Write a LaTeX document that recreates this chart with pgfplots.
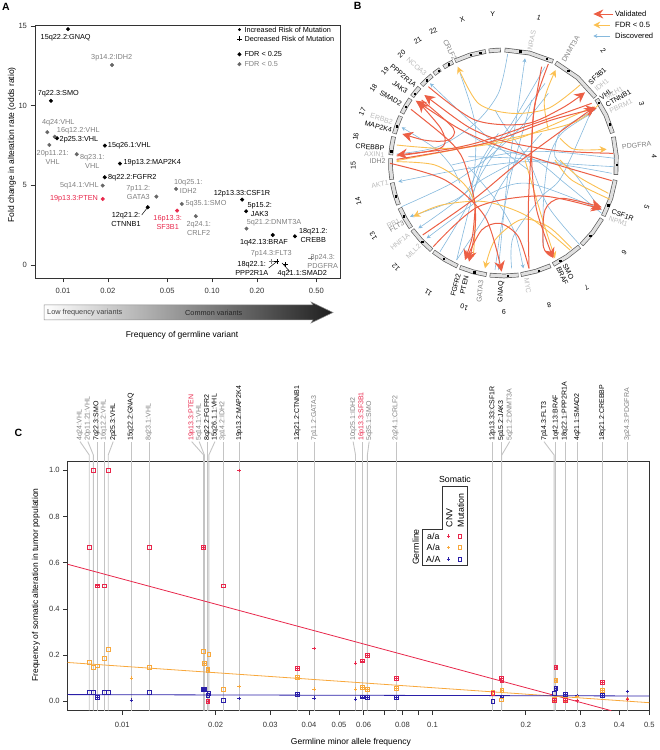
\documentclass[border=0pt]{standalone}
\usepackage{pgfplots}
\pgfplotsset{compat=1.18}
\usepackage{fontspec}
\setmainfont{Liberation Sans}
\usetikzlibrary{arrows.meta}
\definecolor{frame}{HTML}{333333}
\definecolor{cgray}{HTML}{808080}
\definecolor{clight}{HTML}{BBBBBB}
\definecolor{cred}{HTML}{E8274B}
\definecolor{cora}{HTML}{F8A83C}
\definecolor{cblu}{HTML}{2A1FA8}
\definecolor{lred}{HTML}{EC5F45}
\definecolor{lora}{HTML}{FBC052}
\definecolor{lblu}{HTML}{86B9DD}
\definecolor{vline}{HTML}{C4C4C4}
\pgfplotsset{
  panel/.style={scale only axis,axis line style={frame,line width=0.9pt},
    tick style={frame,line width=0.7pt},tick align=outside,major tick length=4.5pt,
    minor tick length=0pt,xtick pos=lower,ytick pos=left,clip=false,
    tick label style={font=\fontsize{7.6}{8}\selectfont,text=frame},
    label style={font=\fontsize{8.5}{9}\selectfont,text=black},
    log ticks with fixed point},
  rr/.style={lred,line width=1pt,smooth},
  ra/.style={lred,line width=1pt,smooth,-{Stealth[length=10.5pt,width=10.5pt]}},
  rs/.style={lred,line width=1pt,smooth,{Stealth[length=10.5pt,width=10.5pt]}-},
  oo/.style={lora,line width=0.9pt,smooth},
  oa/.style={lora,line width=0.9pt,smooth,-{Stealth[length=7pt,width=7pt]}},
  bb/.style={lblu,line width=0.6pt,smooth},
  ba/.style={lblu,line width=0.6pt,smooth,-{Stealth[length=4pt,width=4pt]}},
  gl/.style={vline,line width=0.9pt},
  sq/.style={only marks,mark=square,mark size=1.9pt,mark options={solid,line width=0.7pt,draw=#1,fill=none},#1},
  pl/.style={only marks,mark=+,mark size=1.7pt,mark options={solid,line width=0.7pt,draw=#1},#1},
}
\newcommand{\chr}[3]{%
  \addplot[data cs=polar,frame!80,line width=4.6pt] coordinates {(#1,113)(#2,113)(#3,113)};
  \addplot[data cs=polar,black!12,line width=3.2pt,shorten <=0.6pt,shorten >=0.6pt] coordinates {(#1,113)(#2,113)(#3,113)};}
\newcommand{\gv}[1]{\addplot[gl] coordinates {(#1,-0.0407)(#1,1.124)};}
\newcommand{\gt}[2]{\addplot[gl] coordinates {(#1,-0.0407)(#1,1.066)(#2,1.124)};}
\begin{document}
\begin{tikzpicture}
\useasboundingbox (0,0) rectangle (659pt,750pt);

% ---------- panel A
\begin{axis}[panel,at={(35pt,472pt)},anchor=south west,width=305pt,height=253pt,
  xmode=log,xmin=0.00649,xmax=0.72,ymin=-0.82,ymax=15.06,
  xtick={0.01,0.02,0.05,0.1,0.2,0.5},xticklabels={0.01,0.02,0.05,0.10,0.20,0.50},
  ytick={0,5,10,15},yticklabels={0,5,10,15},
  x tick label style={yshift=-2.5pt},
  xlabel={Frequency of germline variant},ylabel={Fold change in alteration rate (odds ratio)},
  x label style={at={(axis description cs:0.482,-0.228)},anchor=center},
  y label style={at={(axis description cs:-0.0754,0.526)},anchor=center}]
\addplot[only marks,mark=*,mark size=1.8pt,black] coordinates {
 (0.0108,14.8)(0.0083,10.3)(0.00912,7.95)(0.0191,7.49)(0.0241,6.36)(0.01905,5.5)
 (0.037,3.62)(0.159,4.1)(0.169,3.37)(0.255,1.88)(0.359,1.8)(0.1524,13.22)};
\addplot[only marks,mark=*,mark size=1.8pt,cgray!80!black] coordinates {
 (0.0213,12.55)(0.00785,8.33)(0.0088,8.05)(0.0081,7.53)(0.01236,6.95)(0.01846,4.98)
 (0.0423,4.29)(0.0573,4.77)(0.0626,3.83)(0.0777,3.06)(0.17,2.28)(0.1524,12.6)};
\addplot[only marks,mark=*,mark size=1.8pt,cred] coordinates {(0.01846,4.14)(0.0582,3.41)};
\addplot[only marks,mark=*,mark size=1.2pt,black] coordinates {(0.1524,14.77)};
\addplot[only marks,mark=+,mark size=2.4pt,black] coordinates {(0.2717,0.22)(0.311,0.03)(0.1524,14.19)};
\addplot[only marks,mark=+,mark size=2.4pt,cgray] coordinates {(0.249,0.22)(0.459,0.43)};
\end{axis}

% ---------- panel B: chromosome ring
\begin{axis}[at={(503.5pt,587pt)},anchor=center,scale only axis,width=250pt,height=250pt,
  hide axis,clip=false,xmin=-125,xmax=125,ymin=-125,ymax=125]
\chr{89.4}{76.7}{64}
\chr{62.5}{49}{35.6}
\chr{34.5}{25}{15.3}
\chr{13.4}{3.7}{-6}
\chr{-8.6}{-18.3}{-28}
\chr{-29.5}{-37.9}{-46.3}
\chr{-47.7}{-55.9}{-64}
\chr{-65.4}{-73.3}{-81.2}
\chr{-82.4}{-89.7}{-97}
\chr{-98.6}{-105.6}{-112.7}
\chr{-114}{-121.2}{-128.3}
\chr{-129.5}{-136.7}{-143.8}
\chr{-145}{-150.8}{-156.6}
\chr{-158.3}{-164.2}{-170}
\chr{-171.5}{-177}{-182.4}
\chr{-184}{-188.7}{-193.5}
\chr{-195}{-199.7}{-204.5}
\chr{-206}{-210.3}{-214.6}
\chr{-216}{-219}{-222}
\chr{-223.5}{-227.1}{-230.8}
\chr{-232}{-234}{-236}
\chr{-238}{-240.7}{-243.4}
\chr{-244.6}{-252.8}{-261}
\chr{-262.5}{-265.5}{-268.6}
\addplot[data cs=polar,only marks,mark=square*,mark size=0.7pt,black] coordinates {
 (81.6,113)(67.4,113)(55,113)(32.4,113)(20,113)(-1,113)(-22,113)(-40,113)(-60,113)(-72,113)
 (-88,113)(-105,113)(-122,113)(-136,113)(-152,113)(-163,113)(-186,113)(-199,113)(-210,113)
 (-218,113)(-227,113)(-235,113)(-241,113)(-253,113)(-258,113)};
\end{axis}

% ---------- panel B: links, in a frame of 3 units per pixel
\begin{axis}[at={(385pt,470pt)},anchor=south west,scale only axis,width=240pt,height=230pt,
  hide axis,clip=false,xmin=0,xmax=720,ymin=0,ymax=690,y dir=reverse]
% discovered
\addplot[bb] coordinates {(368,12)(340,130)(270,220)(160,290)(35,312)};
\addplot[ba] coordinates {(340,660)(370,360)(395,200)(420,25)};
\addplot[bb] coordinates {(225,70)(270,220)(268,370)(250,450)};
\addplot[bb] coordinates {(480,50)(380,220)(290,350)(215,630)};
\addplot[ba] coordinates {(430,360)(340,290)(230,190)(135,100)};
\addplot[ba] coordinates {(225,400)(200,350)(150,295)(50,232)};
\addplot[ba] coordinates {(680,370)(450,335)(250,355)(40,395)};
\addplot[bb] coordinates {(50,470)(200,400)(300,330)(400,240)(490,130)};
\addplot[ba] coordinates {(400,330)(290,390)(210,450)(75,500)};
\addplot[ba] coordinates {(340,250)(290,330)(240,430)(100,535)};
\addplot[ba] coordinates {(650,480)(430,400)(300,440)(125,565)};
\addplot[bb] coordinates {(165,605)(240,480)(290,370)(370,250)(480,100)};
\addplot[bb] coordinates {(215,630)(300,500)(340,420)(400,330)(470,250)};
\addplot[bb] coordinates {(330,660)(350,520)(375,390)(395,310)(440,150)};
\addplot[ba] coordinates {(250,350)(340,460)(390,550)(415,655)};
\addplot[bb] coordinates {(380,655)(385,560)(470,440)(530,380)(620,180)};
\addplot[bb] coordinates {(690,325)(500,305)(370,310)(200,345)};
\addplot[bb] coordinates {(685,350)(530,340)(400,325)(250,320)};
\addplot[bb] coordinates {(630,180)(530,240)(510,320)(560,360)(640,470)};
\addplot[bb] coordinates {(475,590)(475,460)(490,330)(530,250)(620,190)};
\addplot[bb] coordinates {(650,490)(540,400)(450,330)(320,290)(230,240)};
\addplot[bb] coordinates {(585,585)(490,470)(430,330)(360,230)(330,180)};
% FDR < 0.5
\addplot[oa] coordinates {(585,105)(490,175)(380,190)(280,160)(218,50)};
\addplot[oa] coordinates {(525,265)(560,295)(600,300)(665,298)};
\addplot[oa] coordinates {(490,240)(478,150)(512,60)};
\addplot[oo] coordinates {(35,285)(200,295)(400,265)(625,170)};
\addplot[oo] coordinates {(35,332)(330,275)(560,220)(640,165)};
\addplot[oo] coordinates {(35,335)(150,345)(235,400)(270,470)(265,620)};
\addplot[oa] coordinates {(555,600)(430,500)(300,455)(170,465)(85,500)};
\addplot[oa] coordinates {(560,595)(490,530)(410,508)(330,570)(300,655)};
\addplot[oo] coordinates {(525,330)(580,380)(670,430)};
\addplot[oo] coordinates {(510,330)(560,390)(675,448)};
\addplot[oa] coordinates {(420,330)(470,500)(510,625)};
% validated
\addplot[ra] coordinates {(130,110)(270,210)(420,222)(530,175)(600,127)};
\addplot[rs] coordinates {(35,315)(250,285)(450,220)(620,160)};
\addplot[ra] coordinates {(35,328)(300,280)(500,210)(635,175)};
\addplot[rs] coordinates {(100,155)(175,250)(165,295)(35,318)};
\addplot[rs] coordinates {(118,135)(300,255)(500,300)(685,310)};
\addplot[rs] coordinates {(92,152)(270,260)(470,330)(680,392)};
\addplot[rs] coordinates {(52,252)(130,272)(190,270)(205,235)(110,150)};
\addplot[rr] coordinates {(490,42)(450,160)(440,280)(430,470)(432,655)};
\addplot[ra] coordinates {(470,50)(445,200)(440,330)(455,480)(505,625)};
\addplot[ra] coordinates {(113,555)(270,445)(410,330)(630,170)};
\addplot[ra] coordinates {(78,178)(190,270)(235,330)(268,450)(270,540)(252,635)};
\addplot[ra] coordinates {(15,340)(180,390)(300,500)(350,665)};
\addplot[rr] coordinates {(245,625)(290,540)(345,520)(400,560)(432,655)};
\addplot[ra] coordinates {(145,590)(280,470)(470,438)(650,478)};
\addplot[ra] coordinates {(500,620)(475,590)(480,480)(530,445)(650,472)};
\addplot[ra] coordinates {(270,480)(262,560)(240,630)};
% legend marks
\addplot[lred,line width=1pt,-{Stealth[length=10pt,width=9pt]}] coordinates {(685,-108)(625,-108)};
\addplot[lora,line width=0.9pt,-{Stealth[length=7pt,width=7pt]}] coordinates {(675,-75)(625,-75)};
\addplot[lblu,line width=0.6pt,-{Stealth[length=4pt,width=4pt]}] coordinates {(675,-42)(625,-42)};
\end{axis}

% ---------- panel C
\begin{axis}[panel,at={(67.7pt,39.3pt)},anchor=south west,width=581.6pt,height=249.7pt,
  xmode=log,xmin=0.00667,xmax=0.5,ymin=-0.0407,ymax=1.04,
  xtick={0.01,0.02,0.03,0.04,0.05,0.06,0.07,0.08,0.09,0.1,0.2,0.3,0.4,0.5},
  xticklabels={0.01,0.02,0.03,0.04,0.05,0.06,,0.08,,0.1,0.2,0.3,0.4,0.5},
  ytick={0,0.2,0.4,0.6,0.8,1},yticklabels={0.0,0.2,0.4,0.6,0.8,1.0},
  x tick label style={yshift=-3pt},
  xlabel={Germline minor allele frequency},
  ylabel={Frequency of somatic alteration in tumor population},
  x label style={at={(axis description cs:0.487,-0.125)},anchor=center},
  y label style={at={(axis description cs:-0.0547,0.503)},anchor=center}]
\gt{0.00783}{0.00731}
\gt{0.00807}{0.00775}
\gv{0.00831}
\gv{0.00878}
\gt{0.00901}{0.00935}
\gv{0.01069}
\gv{0.01225}
\gt{0.0183}{0.01674}
\gt{0.0184}{0.0177}
\gv{0.01888}
\gt{0.01902}{0.0199}
\gv{0.02115}
\gv{0.02382}
\gv{0.03664}
\gv{0.04155}
\gt{0.0565}{0.0555}
\gv{0.0593}
\gt{0.0617}{0.0625}
\gv{0.0764}
\gv{0.1565}
\gv{0.1664}
\gt{0.1673}{0.1774}
\gt{0.2466}{0.2288}
\gv{0.25}
\gv{0.2674}
\gv{0.2924}
\gv{0.352}
\gv{0.4248}
% fits
\addplot[cred,line width=0.8pt] coordinates {(0.00667,0.593)(0.3774,-0.0407)};
\addplot[cora,line width=0.8pt] coordinates {(0.00667,0.168)(0.5,-0.006)};
\addplot[cblu,line width=0.8pt] coordinates {(0.00667,0.029)(0.5,0.023)};
% blue
\addplot[sq=cblu] coordinates {(0.00783,0.039)(0.00807,0.039)(0.00831,0.017)(0.00878,0.039)(0.00901,0.037)
 (0.01225,0.039)(0.0183,0.053)(0.0184,0.052)(0.01888,0.025)(0.01902,0.035)(0.02115,0.004)(0.03664,0.029)
 (0.0593,0.019)(0.0617,0.016)(0.0764,0.016)(0.1565,0.001)(0.1664,0.006)(0.1673,0.019)(0.2466,0.035)
 (0.25,0.055)(0.2674,0.03)(0.352,0.026)(0.1225,0.616)};
\addplot[pl=cblu] coordinates {(0.01069,0.006)(0.02382,0.012)(0.04155,0.014)(0.0565,0.01)(0.2924,0.025)
 (0.4248,0.042)(0.00831,0.017)(0.0183,0.053)(0.0184,0.052)(0.03664,0.029)(0.0593,0.019)(0.0617,0.016)
 (0.0764,0.016)(0.1673,0.019)(0.25,0.055)(0.2674,0.03)(0.352,0.026)(0.1128,0.616)};
% orange
\addplot[sq=cora] coordinates {(0.00783,0.169)(0.00807,0.146)(0.00831,0.153)(0.00878,0.186)(0.00901,0.224)
 (0.01225,0.146)(0.0183,0.215)(0.0184,0.163)(0.01888,0.133)(0.01888,0.14)(0.01902,0.202)(0.02115,0.05)
 (0.03664,0.102)(0.0593,0.062)(0.0617,0.052)(0.0764,0.056)(0.1565,0.037)(0.1673,0.046)(0.1664,0.006)
 (0.2466,0.009)(0.25,0.091)(0.2674,0.009)(0.352,0.048)(0.1225,0.665)};
\addplot[pl=cora] coordinates {(0.01069,0.1)(0.02382,0.065)(0.04155,0.053)(0.0565,0.053)(0.2924,0.02)
 (0.4248,0.013)(0.0184,0.163)(0.01888,0.133)(0.03664,0.102)(0.0593,0.062)(0.0617,0.052)(0.0764,0.056)
 (0.1565,0.037)(0.1673,0.046)(0.25,0.091)(0.352,0.048)(0.1128,0.665)};
% red
\addplot[sq=cred] coordinates {(0.00783,0.667)(0.01225,0.667)(0.0183,0.667)(0.00831,0.5)(0.00878,0.5)(0.02115,0.5)
 (0.00807,1)(0.00901,1)(0.01888,0)(0.03664,0.142)(0.0593,0.175)(0.0617,0.2)(0.0764,0.1)(0.1664,0.1)
 (0.1673,0.09)(0.1565,0.035)(0.2466,0.005)(0.25,0.147)(0.2674,0.005)(0.352,0.082)(0.1225,0.7156)};
\addplot[pl=cred] coordinates {(0.02382,1)(0.04155,0.229)(0.0565,0.166)(0.2924,0.002)(0.4248,0.01)
 (0.0183,0.667)(0.00831,0.5)(0.01888,0)(0.03664,0.142)(0.0593,0.175)(0.0617,0.2)(0.0764,0.1)(0.1664,0.1)
 (0.1673,0.09)(0.25,0.147)(0.352,0.082)(0.2466,0.005)(0.2674,0.005)(0.1128,0.7156)};
\end{axis}

% ---------- text and furniture in image pixels
\begin{scope}[shift={(0,750pt)},x=1pt,y=-1pt]
\tikzset{every node/.style={font=\fontsize{7.3}{9}\selectfont,inner sep=0pt,align=center},
  k/.style={text=black},g/.style={text=cgray},r/.style={text=cred},
  c/.style={rotate=90,anchor=west,font=\fontsize{7}{7}\selectfont}}
\node[font=\bfseries\fontsize{10.5}{11}\selectfont] at (6,7) {A};
\node[font=\bfseries\fontsize{10.5}{11}\selectfont] at (357.7,6) {B};
\node[font=\bfseries\fontsize{10.5}{11}\selectfont] at (18.3,432.7) {C};
% A labels
\node[k] at (65.7,37.7) {15q22.2:GNAQ};
\node[g] at (111.7,57.7) {3p14.2:IDH2};
\node[k] at (58.3,94) {7q22.3:SMO};
\node[g] at (58.3,122.7) {4q24:VHL};
\node[g] at (78.3,131) {16q12.2:VHL};
\node[k] at (79,139.3) {2p25.3:VHL};
\node[k] at (129.3,145.7) {15q26.1:VHL};
\node[g] at (52.7,157.7) {20p11.21:\\VHL};
\node[g] at (92.3,161.3) {8q23.1:\\VHL};
\node[k] at (152.3,163) {19p13.2:MAP2K4};
\node[k] at (132.3,177.3) {8q22.2:FGFR2};
\node[g] at (79.3,185.7) {5q14.1:VHL};
\node[r] at (74,199) {19p13.3:PTEN};
\node[g] at (138.3,192.7) {7p11.2:\\GATA3};
\node[g] at (188.3,186) {10q25.1:\\IDH2};
\node[k] at (242,193.7) {12p13.33:CSF1R};
\node[k] at (259.7,209.3) {5p15.2:\\JAK3};
\node[g] at (206,203.7) {5q35.1:SMO};
\node[k] at (126,219) {12q21.2:\\CTNNB1};
\node[r] at (167.7,222.3) {16p13.3:\\SF3B1};
\node[g] at (198.7,228.7) {2q24.1:\\CRLF2};
\node[g] at (274,222.3) {5q21.2:DNMT3A};
\node[k] at (264,242.3) {1q42.13:BRAF};
\node[k] at (313.3,235.3) {18q21.2:\\CREBB};
\node[g] at (271.3,253.7) {7p14.3:FLT3};
\node[k] at (251.7,268.7) {18q22.1:\\PPP2R1A};
\node[k] at (302.3,273.3) {4q21.1:SMAD2};
\node[g] at (322.7,261) {3p24.3:\\PDGFRA};
\draw[black,line width=0.5pt] (141.7,215)--(147.7,207.3);
\draw[black,line width=0.5pt] (268.7,268)--(276.7,261.7);
\draw[black,line width=0.5pt] (290,271.7)--(282,263);
\node[k,anchor=west] at (244.3,29.7) {Increased Risk of Mutation};
\node[k,anchor=west] at (244.3,39) {Decreased Risk of Mutation};
\node[k,anchor=west] at (244.3,54.3) {FDR < 0.25};
\node[g,anchor=west] at (244.3,64) {FDR < 0.5};
% gradient arrow
\shade[left color=white,right color=black!88,draw=black!45,line width=0.5pt]
  (44,305)--(313,305)--(311,302)--(333,312.5)--(311,323)--(313,320)--(44,320)--cycle;
\node[text=black!75,anchor=west] at (47,313) {Low frequency variants};
\node[text=black!85,anchor=west] at (185,313) {Common variants};
% C labels
\node[c,g] at (80,441) {4q24:VHL};
\node[c,g] at (88,441) {20p11.21:VHL};
\node[c,k] at (96.7,441) {7q22.3:SMO};
\node[c,g] at (104,441) {16q12.2:VHL};
\node[c,k] at (113.3,441) {2p25.3:VHL};
\node[c,k] at (131,441) {15q22.2:GNAQ};
\node[c,g] at (149,441) {8q23.1:VHL};
\node[c,r] at (191.7,441) {19p13.3:PTEN};
\node[c,g] at (199.3,441) {5q14.1:VHL};
\node[c,k] at (207.3,441) {8q22.2:FGFR2};
\node[c,k] at (215,441) {15q26.1.1:VHL};
\node[c,g] at (222.7,441) {3p14.2:IDH2};
\node[c,k] at (239.3,441) {19p13.2:MAP2K4};
\node[c,k] at (297.3,441) {12q21.2:CTNNB1};
\node[c,g] at (314.3,441) {7p11.2:GATA3};
\node[c,g] at (353.3,441) {10q25.1:IDH2};
\node[c,r] at (361.7,441) {16p13.3:SF3B1};
\node[c,g] at (369.3,441) {5q35.1:SMO};
\node[c,g] at (395.7,441) {2q24.1:CRLF2};
\node[c,k] at (492.7,441) {12p13.33:CSF1R};
\node[c,k] at (501.3,441) {5p15.2:JAK3};
\node[c,g] at (510,441) {5q21.2:DNMT3A};
\node[c,k] at (544.3,441) {7p14.3:FLT3};
\node[c,k] at (556,441) {1q42.13:BRAF};
\node[c,k] at (565,441) {18q22.1:PPP2R1A};
\node[c,k] at (577.3,441) {4q21.1:SMAD2};
\node[c,k] at (602.3,441) {18q21.2:CREBBP};
\node[c,g] at (627.3,441) {3p24.3:PDGFRA};
% C legend
\draw[frame,line width=0.6pt] (442.7,529)--(442.7,486.7)--(467.3,486.7)--(467.3,565.7)--(422.3,565.7)--(422.3,529)--cycle;
\node[font=\fontsize{8.8}{9}\selectfont] at (455,479.3) {Somatic};
\node[rotate=90,anchor=west,font=\fontsize{8.8}{9}\selectfont] at (449.3,527.5) {CNV};
\node[rotate=90,anchor=west,font=\fontsize{8.8}{9}\selectfont] at (460.7,527.5) {Mutation};
\node[rotate=90,font=\fontsize{8.8}{9}\selectfont] at (415.7,547) {Germline};
\node[font=\fontsize{8.8}{9}\selectfont] at (433.3,536) {a/a};
\node[font=\fontsize{8.8}{9}\selectfont] at (433.3,547.7) {A/a};
\node[font=\fontsize{8.8}{9}\selectfont] at (433.3,559) {A/A};
% B legend text
\node[anchor=west,font=\fontsize{7.6}{8}\selectfont] at (615,14) {Validated};
\node[anchor=west,font=\fontsize{7.6}{8}\selectfont] at (615,25) {FDR < 0.5};
\node[anchor=west,font=\fontsize{7.6}{8}\selectfont] at (615,36) {Discovered};
\end{scope}

% ---------- panel B labels, 3 units per pixel
\begin{scope}[shift={(335pt,750pt)},x=0.33333pt,y=-0.33333pt]
\tikzset{every node/.style={font=\fontsize{7}{7}\selectfont,inner sep=0pt},
  k/.style={text=black},g/.style={text=cgray},l/.style={text=clight}}
\node[k,rotate=43] at (787,228) {SF3B1};
\node[l,rotate=40] at (800,255) {IDH1};
\node[k,rotate=35] at (813,283) {VHL};
\node[l,rotate=30] at (838,278) {MLH1};
\node[k,rotate=30] at (850,295) {CTNNB1};
\node[l,rotate=24] at (858,318) {PBRM1};
\node[g,rotate=7] at (905,436) {PDGFRA};
\node[l,rotate=78] at (590,120) {NRAS};
\node[g,rotate=60] at (707,147) {DNMT3A};
\node[g,rotate=-63] at (345,150) {CRLF2};
\node[l,rotate=-42] at (245,200) {NCOA3};
\node[k,rotate=-40] at (205,228) {PPP2R1A};
\node[k,rotate=-35] at (195,262) {JAK3};
\node[k,rotate=-30] at (167,295) {SMAD2};
\node[l,rotate=-17] at (140,357) {ERBB2};
\node[k,rotate=-15] at (130,380) {MAP2K4};
\node[k,rotate=-4] at (105,441) {CREBBP};
\node[l,rotate=-3] at (118,463) {AXIN1};
\node[g] at (128,483) {IDH2};
\node[l,rotate=10] at (135,553) {AKT1};
\node[l,rotate=28] at (175,670) {RB1};
\node[g,rotate=28] at (185,680) {FLT3};
\node[l,rotate=40] at (195,725) {HNF1A};
\node[l,rotate=45] at (235,755) {MLL2};
\node[k,rotate=75] at (362,855) {FGFR2};
\node[k,rotate=77] at (388,855) {PTEN};
\node[g,rotate=85] at (435,875) {GATA3};
\node[k,rotate=88] at (498,875) {GNAQ};
\node[l,rotate=-82] at (578,857) {MYC};
\node[k,rotate=-65] at (682,828) {BRAF};
\node[k,rotate=-62] at (700,815) {SMO};
\node[k,rotate=-20] at (863,645) {CSF1R};
\node[l,rotate=-20] at (850,665) {NPM1};
% chromosome numbers
\node[rotate=20] at (382,58) {X};
\node at (473,42) {Y};
\node[rotate=-15] at (612,52) {1};
\node[rotate=-55] at (805,152) {2};
\node[rotate=-75] at (920,310) {3};
\node[rotate=-90] at (958,470) {4};
\node[rotate=-110] at (935,620) {5};
\node[rotate=-130] at (868,757) {6};
\node[rotate=-150] at (755,862) {7};
\node[rotate=-170] at (642,917) {8};
\node[rotate=180] at (507,937) {9};
\node[rotate=165] at (388,922) {10};
\node[rotate=150] at (280,878) {11};
\node[rotate=135] at (183,802) {12};
\node[rotate=120] at (115,708) {13};
\node[rotate=105] at (70,603) {14};
\node[rotate=90] at (55,497) {15};
\node[rotate=80] at (62,410) {16};
\node[rotate=65] at (82,335) {17};
\node[rotate=55] at (115,265) {18};
\node[rotate=48] at (150,212) {19};
\node[rotate=40] at (200,162) {20};
\node[rotate=30] at (248,122) {21};
\node[rotate=27] at (295,93) {22};
\end{scope}
\end{tikzpicture}
\end{document}
